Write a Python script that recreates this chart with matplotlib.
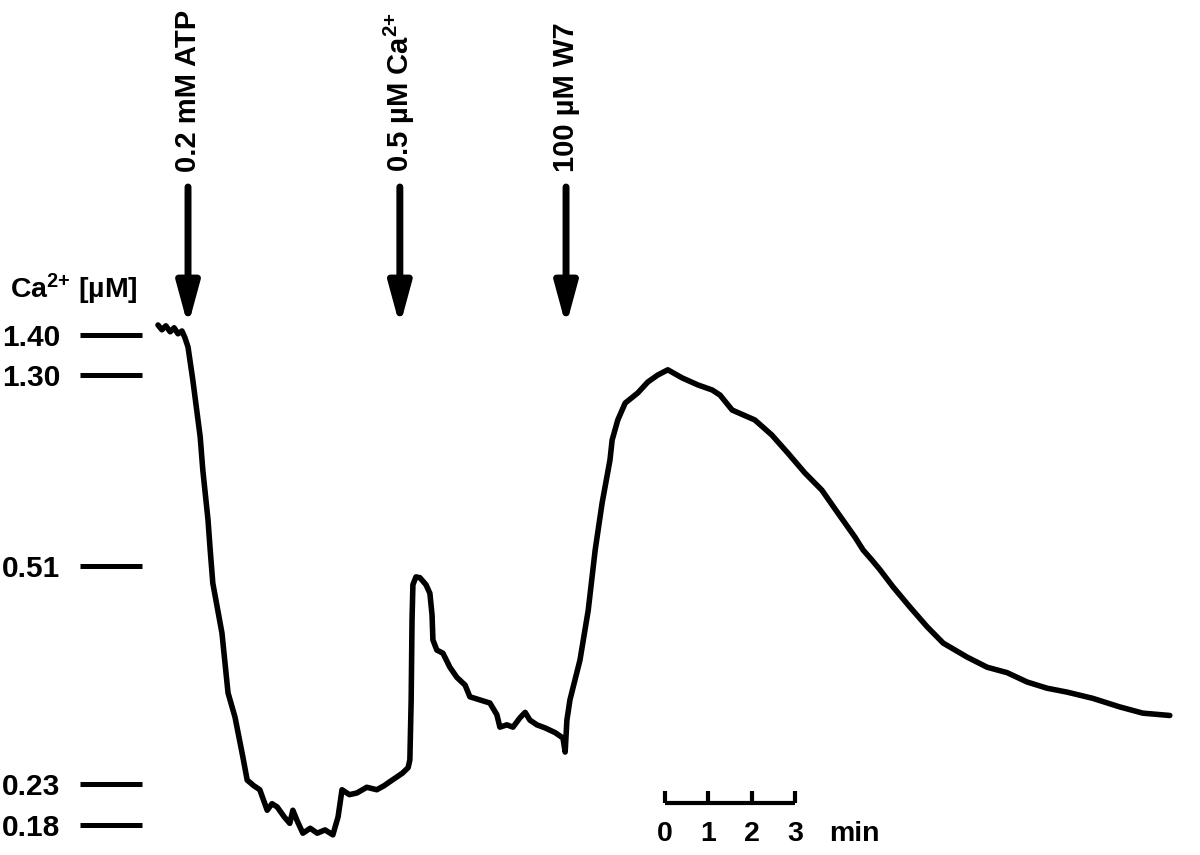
import numpy as np
import matplotlib.pyplot as plt

plt.rcParams['font.family'] = ['Liberation Sans', 'DejaVu Sans']
plt.rcParams['font.weight'] = 'bold'
plt.rcParams['mathtext.fontset'] = 'custom'
plt.rcParams['mathtext.rm'] = 'Liberation Sans:bold'
plt.rcParams['mathtext.bf'] = 'Liberation Sans:bold'
plt.rcParams['mathtext.default'] = 'bf'

# trace: time (min) and Ca2+ (uM)
time = [0.00, 0.09, 0.18, 0.28, 0.37, 0.46, 0.55, 0.62, 0.69, 0.80, 0.97, 1.03, 1.15, 1.20,
        1.26, 1.47, 1.61, 1.77, 1.95, 2.05, 2.20, 2.34, 2.51, 2.62, 2.74, 2.90, 3.03, 3.10,
        3.20, 3.33, 3.50, 3.66, 3.84, 4.02, 4.14, 4.23, 4.40, 4.57, 4.80, 5.03, 5.20, 5.33,
        5.49, 5.62, 5.75, 5.79, 5.82, 5.84, 5.86, 5.93, 6.02, 6.16, 6.25, 6.30, 6.32, 6.41,
        6.55, 6.71, 6.87, 7.06, 7.17, 7.40, 7.63, 7.79, 7.86, 8.02, 8.16, 8.32, 8.44, 8.55,
        8.71, 8.90, 9.13, 9.31, 9.36, 9.40, 9.47, 9.70, 9.89, 10.05, 10.21, 10.39, 10.44,
        10.57, 10.74, 11.03, 11.26, 11.49, 11.72, 12.05, 12.41, 12.74, 12.92, 13.20, 13.72,
        14.11, 14.48, 14.87, 15.26, 15.63, 16.02, 16.21, 16.41, 16.60, 16.90, 17.29, 17.68,
        18.05, 18.60, 19.06, 19.52, 19.98, 20.44, 20.90, 21.49, 22.11, 22.64, 23.26]
ca = [1.425, 1.413, 1.423, 1.408, 1.418, 1.403, 1.410, 1.393, 1.370, 1.280, 1.044, 0.907,
      0.700, 0.576, 0.488, 0.424, 0.347, 0.316, 0.265, 0.235, 0.228, 0.223, 0.198, 0.206,
      0.202, 0.190, 0.182, 0.198, 0.185, 0.170, 0.176, 0.170, 0.174, 0.168, 0.190, 0.223,
      0.217, 0.219, 0.226, 0.223, 0.228, 0.233, 0.239, 0.244, 0.251, 0.261, 0.338, 0.441,
      0.486, 0.496, 0.495, 0.486, 0.475, 0.447, 0.415, 0.402, 0.398, 0.380, 0.367, 0.357,
      0.342, 0.338, 0.334, 0.319, 0.303, 0.306, 0.303, 0.315, 0.322, 0.312, 0.306, 0.302,
      0.296, 0.289, 0.271, 0.312, 0.338, 0.389, 0.453, 0.576, 0.771, 0.948, 1.031, 1.114,
      1.184, 1.226, 1.271, 1.300, 1.313, 1.288, 1.259, 1.238, 1.217, 1.155, 1.114, 1.052,
      0.977, 0.895, 0.824, 0.729, 0.630, 0.576, 0.535, 0.505, 0.483, 0.457, 0.432, 0.411,
      0.393, 0.380, 0.373, 0.361, 0.353, 0.348, 0.340, 0.329, 0.321, 0.318]

# calibration of the recorder signal against Ca2+ (uM)
cal_ca = [0.0, 0.18, 0.23, 0.51, 1.30, 1.40, 3.0]
cal_sig = [-147.6, 0.0, 41.0, 259.0, 450.0, 490.0, 1130.0]
ca_ticks = [0.18, 0.23, 0.51, 1.30, 1.40]

# additions
events = [0.69, 5.56, 9.38]
event_labels = ['0.2 mM ATP', r'0.5 µM Ca$^{\text{2+}}$', '100 µM W7']

scale_ticks = [0, 1, 2, 3]
scale_start = 11.65


def fwd(v):
    return np.interp(v, cal_ca, cal_sig)


def inv(s):
    return np.interp(s, cal_sig, cal_ca)


px_per_min = 43.5
fig = plt.figure(figsize=(12, 8.55), dpi=100)
ax = fig.add_axes([0, 0, 1, 1])
ax.set_yscale('function', functions=(fwd, inv))

ax.plot(time, ca, color='black', lw=4, solid_joinstyle='round', solid_capstyle='round')

ax.set_xlim(-158 / px_per_min, (1200 - 158) / px_per_min)
ax.set_ylim(inv(-30), inv(825))

for s in ax.spines.values():
    s.set_visible(False)
ax.spines['left'].set_position(('axes', 142 / 1200))
ax.set_xticks([])
ax.set_yticks(ca_ticks)
ax.set_yticklabels(['%.2f' % v for v in ca_ticks])
ax.yaxis.set_minor_locator(plt.NullLocator())
ax.tick_params(axis='y', length=44.6, width=3.6, direction='out', pad=14, labelsize=21.5)

ax.text(0.008, 0.661, r'Ca$^{\text{2+}}$ [µM]', transform=ax.transAxes, ha='left',
        va='center', fontsize=20.5)

# arrows for additions
for t, lab in zip(events, event_labels):
    ax.annotate('', xy=(t, 1.4225), xytext=(t, 1.77),
                arrowprops=dict(arrowstyle='-|>,head_length=1.25,head_width=0.34',
                                lw=5, color='black', shrinkA=0, shrinkB=0,
                                mutation_scale=20))
    ax.text(t, 1.8075, lab, rotation=90, ha='center', va='bottom', fontsize=21)

# time scale bar
ax.plot([scale_start, scale_start + scale_ticks[-1]], [0.2068, 0.2068], color='black',
        lw=3, solid_capstyle='butt')
ax.vlines([scale_start + s for s in scale_ticks], 0.2068, 0.2215, color='black', lw=3)
for s in scale_ticks:
    ax.text(scale_start + s, 0.1695, str(s), ha='center', va='center', fontsize=20.5)
ax.text(16.02, 0.1695, 'min', ha='center', va='center', fontsize=20.5)

fig.savefig('out.png', dpi=100)
